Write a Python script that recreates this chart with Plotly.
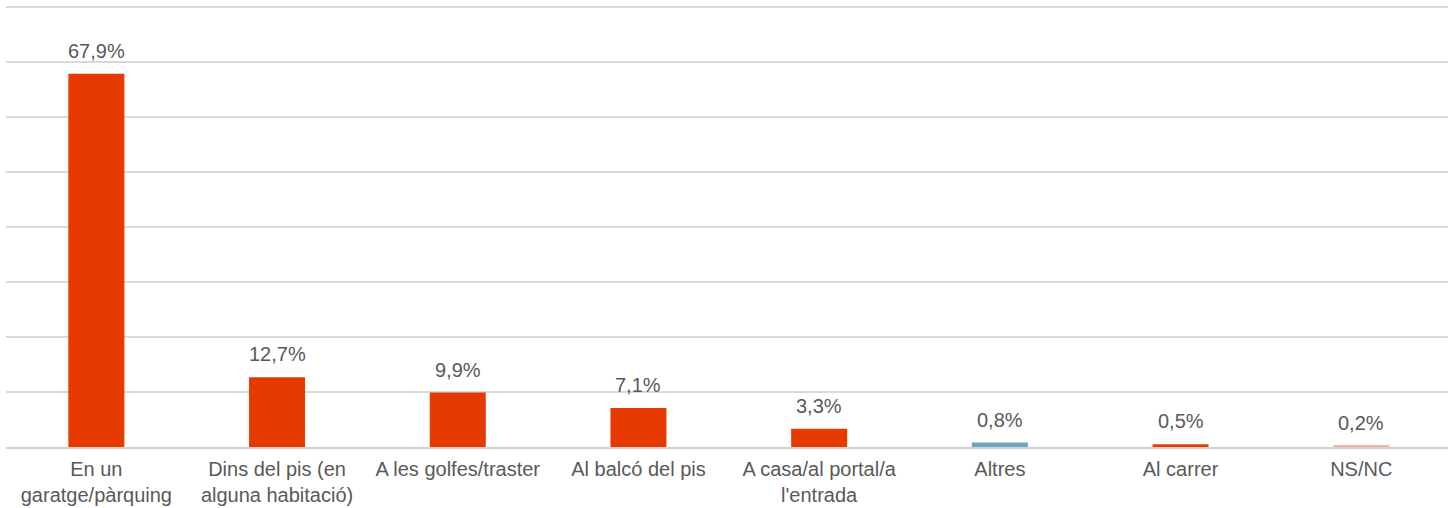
import plotly.graph_objects as go

categories = ["En un<br>garatge/pàrquing", "Dins del pis (en<br>alguna habitació)", "A les golfes/traster",
              "Al balcó del pis", "A casa/al portal/a<br>l'entrada", "Altres", "Al carrer", "NS/NC"]
values = [67.9, 12.7, 9.9, 7.1, 3.3, 0.8, 0.5, 0.2]
labels = ["67,9%", "12,7%", "9,9%", "7,1%", "3,3%", "0,8%", "0,5%", "0,2%"]
colors = ["#E63A00"] * 5 + ["#6FA6BF", "#E63A00", "#F5B3A1"]

FONT = "Liberation Sans, Arial, sans-serif"
TXT = "#595959"

fig = go.Figure()
fig.add_trace(go.Bar(x=categories, y=values, marker=dict(color=colors, line=dict(width=0)),
                     width=0.31, hoverinfo="skip"))

for c, v, t in zip(categories, values, labels):
    fig.add_annotation(x=c, y=v, text=t, showarrow=False, yanchor="bottom", yshift=10,
                       font=dict(family=FONT, size=20, color=TXT))

fig.update_layout(
    width=1448, height=508,
    margin=dict(l=6, r=0, t=6, b=61),
    paper_bgcolor="white", plot_bgcolor="white",
    showlegend=False,
    font=dict(family=FONT, size=20, color=TXT),
)
fig.update_xaxes(range=[-0.5, 7.48], showline=True, linecolor="#D0D0D0", linewidth=1.5, ticks="",
                 tickfont=dict(family=FONT, size=20, color=TXT), ticklabelstandoff=3,
                 showgrid=False, fixedrange=True, automargin=False)
fig.update_yaxes(range=[0, 80.2], tickvals=[10, 20, 30, 40, 50, 60, 70, 80], showticklabels=False,
                 showgrid=True, gridcolor="#D9D9D9", gridwidth=1.5, zeroline=False, fixedrange=True)

fig.write_html("out.html", config={"displayModeBar": False},
               post_script="document.body.style.margin='0';document.body.style.overflow='hidden';")
